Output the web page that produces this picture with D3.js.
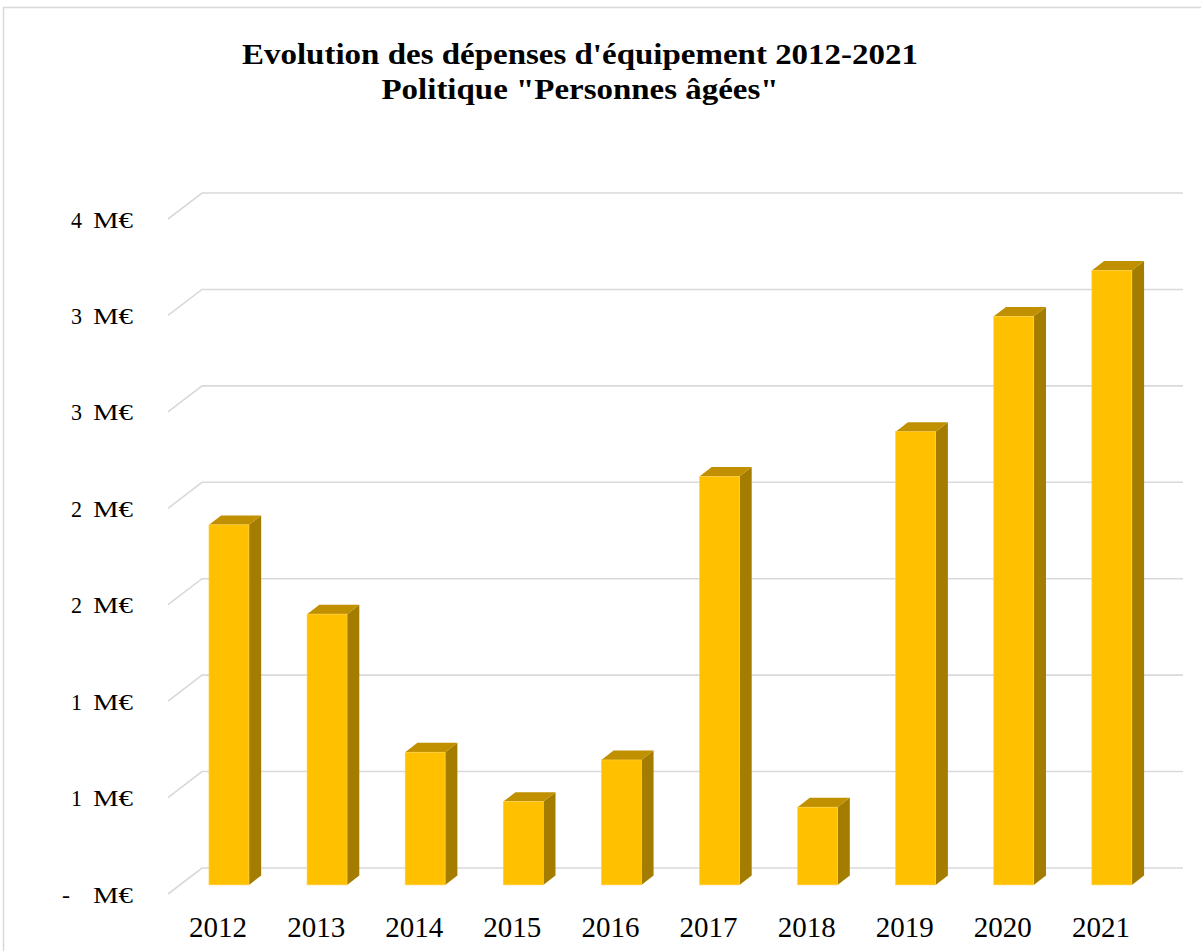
<!DOCTYPE html>
<html>
<head>
<meta charset="utf-8">
<script src="https://cdn.jsdelivr.net/npm/d3@7"></script>
<style>
  html, body { margin: 0; padding: 0; background: #fff; overflow: hidden; }
  svg { display: block; }
  text { font-family: "Liberation Serif", "Times New Roman", serif; fill: #000; }
</style>
</head>
<body>
<svg id="chart" width="1201" height="951"></svg>
<script>
// Dépenses d'équipement, politique "Personnes âgées" (millions d'euros)
const years = ["2012", "2013", "2014", "2015", "2016", "2017", "2018", "2019", "2020", "2021"];
const values = [1.867, 1.404, 0.688, 0.432, 0.648, 2.118, 0.403, 2.35, 2.948, 3.186];

// Axis ticks every 0.5 M€, labels rounded to whole millions
const tickValues = [0, 0.5, 1, 1.5, 2, 2.5, 3, 3.5];
const tickLabels = ["-", "1", "1", "2", "2", "3", "3", "4"];

const titleLines = ["Evolution des dépenses d'équipement 2012-2021", "Politique \"Personnes âgées\""];
const titleWidths = [676, 397];

const svg = d3.select("#chart");

// chart frame
svg.append("rect")
  .attr("x", 3.5).attr("y", 7.5)
  .attr("width", 1300).attr("height", 1100)
  .attr("fill", "#fff")
  .attr("stroke", "#d9d9d9").attr("stroke-width", 1.5);

// Back wall of the 3D plot area
const x = d3.scaleBand().domain(years).range([202, 1183]).paddingInner(0).paddingOuter(0);
const y = d3.scaleLinear().domain([0, 3.5]).range([868, 193]);

// oblique depth: d = 0 at the back wall, d = 1 at the front edge of the floor
const DX = -34, DY = 26;
const proj = (px, v, d) => [px + DX * d, y(v) + DY * d];

// gridlines: side-wall diagonal + back-wall horizontal
const grid = svg.append("g").attr("fill", "none").attr("stroke", "#d9d9d9").attr("stroke-width", 1.6);
tickValues.forEach(t => {
  const pts = [proj(x.range()[0], t, 1), proj(x.range()[0], t, 0), proj(x.range()[1], t, 0)];
  grid.append("polyline").attr("points", pts.map(p => p.join(",")).join(" "));
});

// value labels on the left
const yl = svg.append("g");
tickValues.forEach((t, i) => {
  const [fx, fy] = proj(x.range()[0], t, 1);
  const by = fy + 8.5;
  if (tickLabels[i] === "-") {
    yl.append("text").attr("x", 62).attr("y", by).attr("font-size", 24)
      .attr("textLength", 8).attr("lengthAdjust", "spacingAndGlyphs").text("-");
  } else {
    yl.append("text").attr("x", 71).attr("y", by)
      .attr("font-size", 24).attr("textLength", 11).attr("lengthAdjust", "spacingAndGlyphs")
      .text(tickLabels[i]);
  }
  yl.append("text").attr("x", 93).attr("y", by)
    .attr("font-size", 24).attr("textLength", 40).attr("lengthAdjust", "spacingAndGlyphs")
    .text("M€");
});

// bars
const barW = 40;
const dFront = 0.65, dBack = 0.29;
const poly = pts => pts.map(p => p.join(",")).join(" ");
const bars = svg.append("g");
years.forEach((yr, i) => {
  const v = values[i];
  const cx = x(yr) + x.bandwidth() / 2;
  const xl = cx - barW / 2, xr = cx + barW / 2;
  const g = bars.append("g");
  // side face
  g.append("polygon").attr("fill", "#a47c00")
    .attr("points", poly([proj(xr, 0, dFront), proj(xr, v, dFront), proj(xr, v, dBack), proj(xr, 0, dBack)]));
  // top face
  g.append("polygon").attr("fill", "#c09000")
    .attr("points", poly([proj(xl, v, dFront), proj(xr, v, dFront), proj(xr, v, dBack), proj(xl, v, dBack)]));
  // front face
  const [fx0, fy0] = proj(xl, v, dFront);
  const [fx1, fy1] = proj(xr, 0, dFront);
  g.append("rect").attr("x", fx0).attr("y", fy0)
    .attr("width", fx1 - fx0).attr("height", fy1 - fy0)
    .attr("fill", "#ffc000").attr("stroke", "#ffd34d").attr("stroke-width", 0.6);
});

// category labels along the front edge
const xl = svg.append("g");
years.forEach(yr => {
  const [fx] = proj(x(yr) + x.bandwidth() / 2, 0, 1);
  xl.append("text").attr("x", fx + 1).attr("y", 937).attr("text-anchor", "middle")
    .attr("font-size", 29).text(yr);
});

// title
const title = svg.append("g");
title.selectAll("text").data(titleLines).join("text")
  .attr("x", (d, i) => 580 - titleWidths[i] / 2).attr("y", (d, i) => 63.5 + i * 35.5)
  .attr("font-size", 30).attr("font-weight", "bold")
  .attr("textLength", (d, i) => titleWidths[i]).attr("lengthAdjust", "spacingAndGlyphs")
  .text(d => d);
</script>
</body>
</html>
